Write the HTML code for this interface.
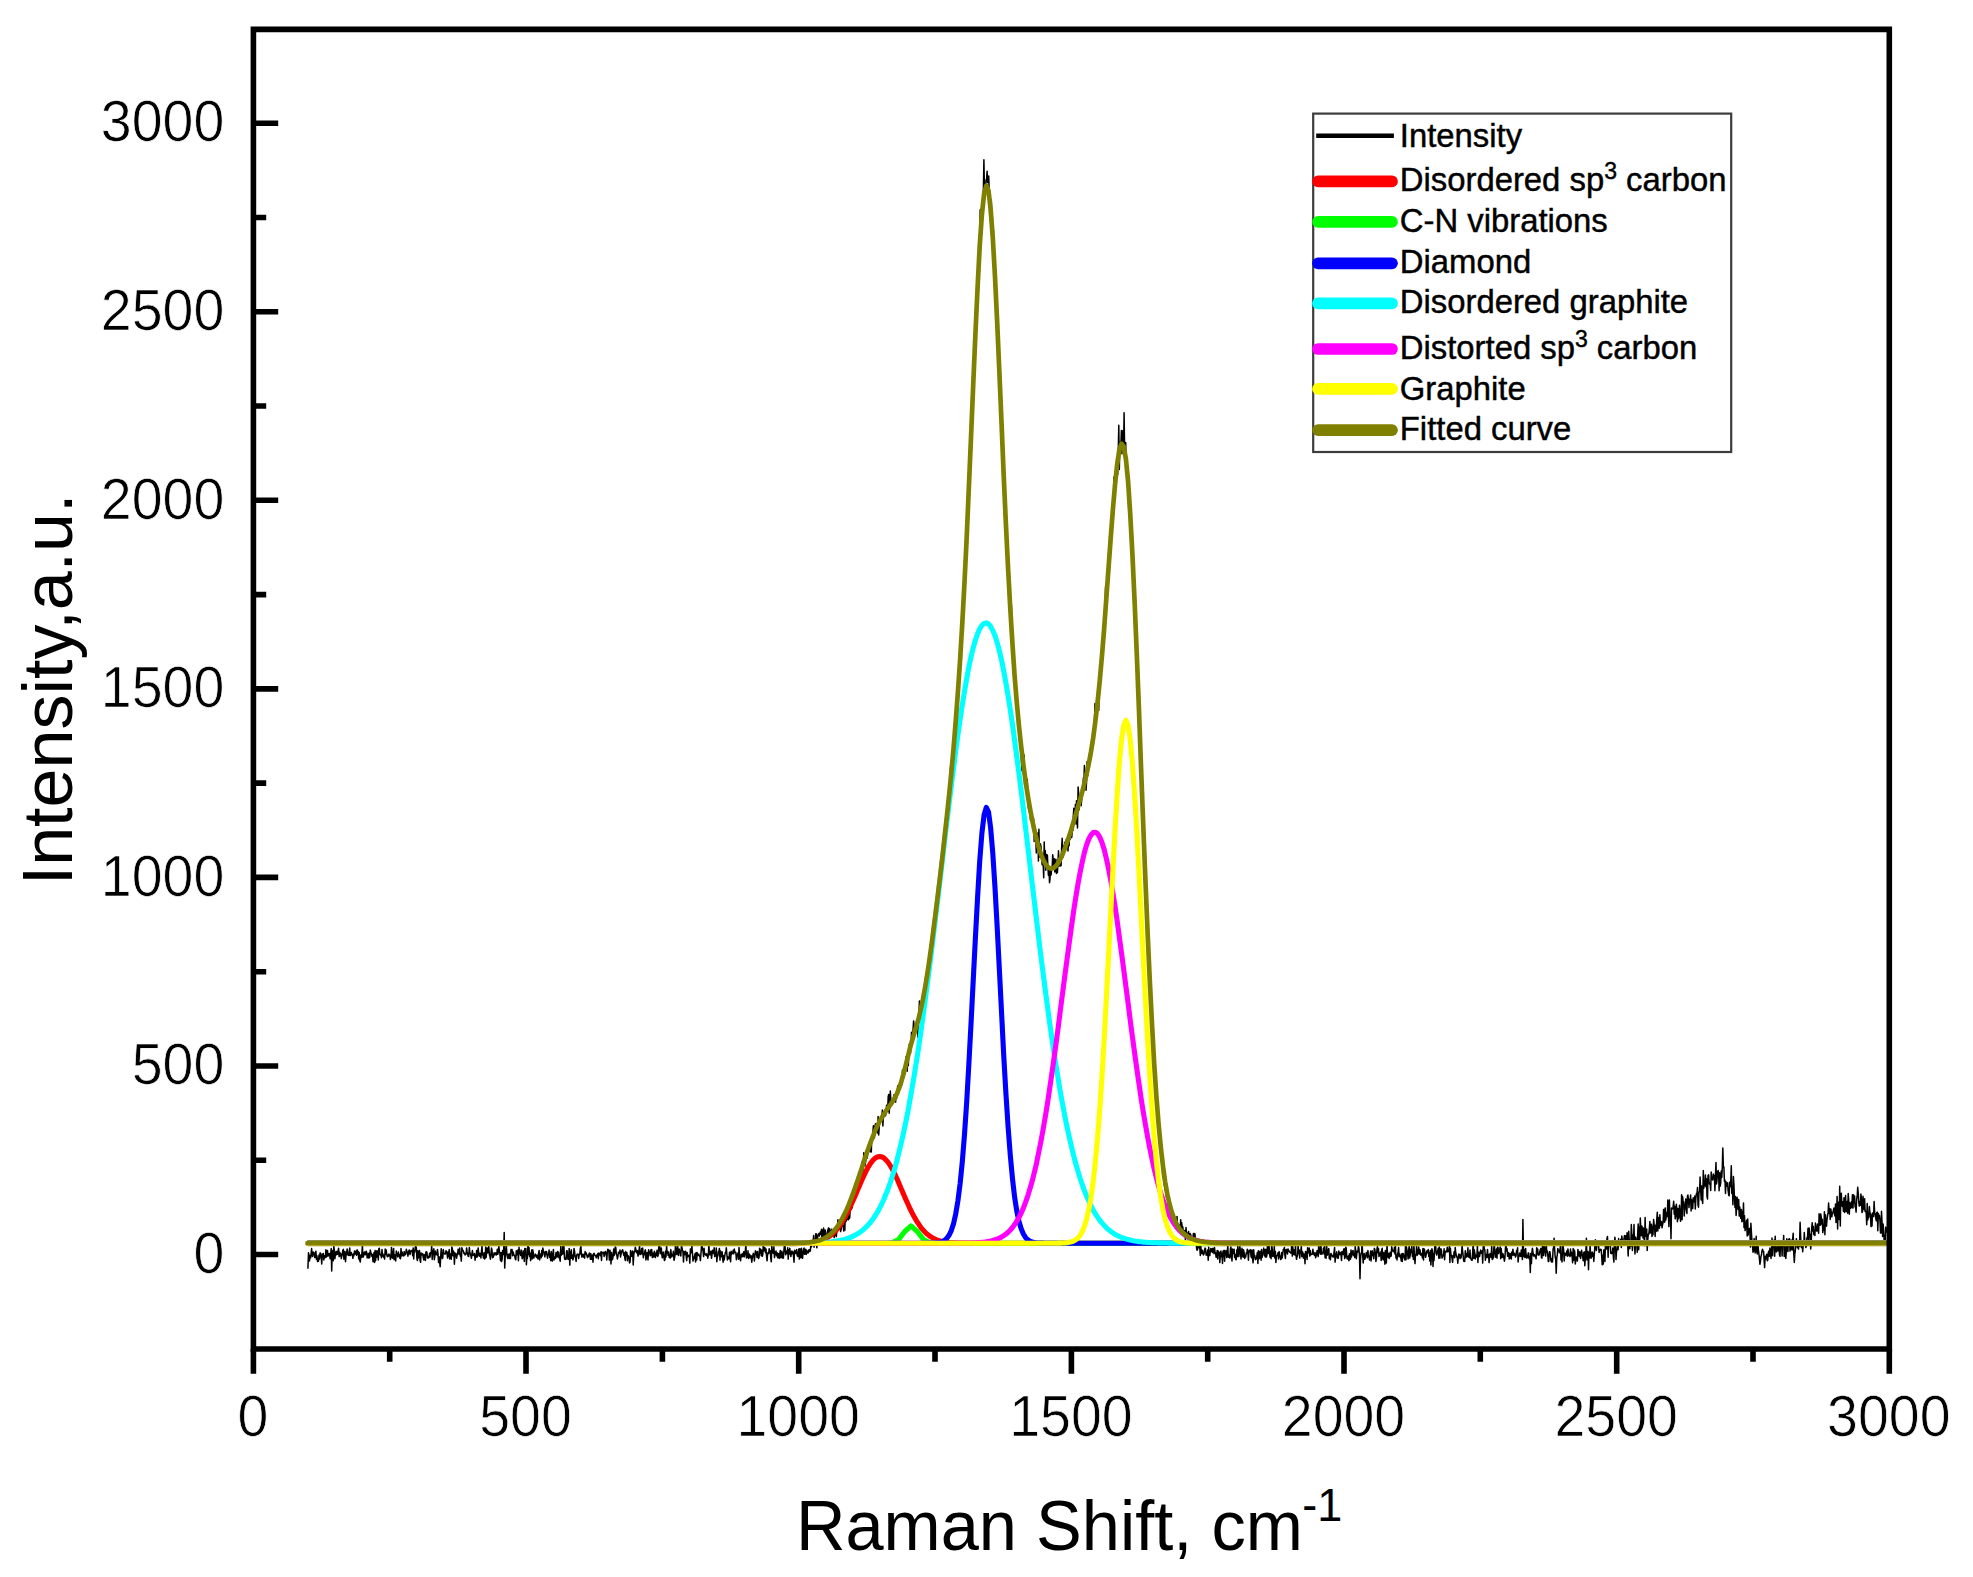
<!DOCTYPE html>
<html lang="en"><head><meta charset="utf-8"><title>Raman spectrum</title>
<style>
html,body{margin:0;padding:0;background:#fff}
body{width:1973px;height:1577px;overflow:hidden}
svg{display:block}
text{font-family:"Liberation Sans",sans-serif;fill:#000}
.tk{font-size:55.5px;stroke:#fff;stroke-width:0.7px}
.lg{font-size:32.85px;stroke:#000;stroke-width:0.45px}
.ax{font-size:68.6px}
.ay{font-size:70px}
.sup{font-size:45px}
</style></head><body>
<svg width="1973" height="1577" viewBox="0 0 1973 1577">
<rect width="1973" height="1577" fill="#fff"/>
<path d="M307.9 1268.8L308.5 1252.8L309.0 1255.0L309.5 1261.0L310.0 1255.7L310.6 1257.9L311.1 1253.7L311.6 1248.6L312.2 1255.9L312.7 1256.4L313.2 1252.0L313.7 1252.5L314.3 1253.5L314.8 1257.6L315.3 1254.1L315.9 1251.2L316.4 1259.3L316.9 1255.7L317.5 1261.5L318.0 1259.0L318.5 1261.2L319.0 1254.9L319.6 1259.0L320.1 1252.9L320.6 1253.3L321.2 1254.7L321.7 1263.9L322.2 1256.1L322.7 1254.1L323.3 1253.5L323.8 1260.0L324.3 1255.8L324.9 1257.8L325.4 1257.1L325.9 1249.7L326.4 1257.1L327.0 1254.1L327.5 1250.4L328.0 1256.2L328.6 1254.4L329.1 1253.5L329.6 1253.7L330.1 1258.8L330.7 1253.6L331.2 1248.6L331.7 1271.1L332.3 1250.5L332.8 1253.5L333.3 1260.7L333.8 1246.0L334.4 1250.9L334.9 1258.7L335.4 1253.6L336.0 1251.7L336.5 1254.7L337.0 1251.2L337.6 1254.2L338.1 1251.3L338.6 1248.2L339.1 1256.6L339.7 1252.3L340.2 1255.8L340.7 1253.4L341.3 1258.6L341.8 1256.2L342.3 1254.7L342.8 1250.4L343.4 1249.4L343.9 1259.2L344.4 1257.1L345.0 1251.4L345.5 1261.8L346.0 1255.8L346.5 1254.3L347.1 1249.0L347.6 1251.2L348.1 1255.2L348.7 1255.4L349.2 1254.9L349.7 1247.9L350.2 1255.6L350.8 1255.1L351.3 1252.5L351.8 1254.4L352.4 1254.7L352.9 1258.3L353.4 1254.0L353.9 1255.7L354.5 1250.9L355.0 1251.3L355.5 1254.0L356.1 1251.3L356.6 1255.3L357.1 1249.8L357.7 1254.0L358.2 1251.6L358.7 1259.0L359.2 1252.6L359.8 1260.6L360.3 1262.0L360.8 1255.1L361.4 1257.5L361.9 1253.3L362.4 1245.0L362.9 1257.2L363.5 1256.4L364.0 1253.1L364.5 1252.0L365.1 1254.6L365.6 1254.7L366.1 1251.2L366.6 1251.9L367.2 1258.0L367.7 1254.2L368.2 1253.8L368.8 1258.1L369.3 1252.9L369.8 1257.3L370.3 1250.1L370.9 1253.2L371.4 1253.6L371.9 1256.3L372.5 1254.4L373.0 1261.8L373.5 1258.4L374.0 1252.5L374.6 1262.4L375.1 1250.6L375.6 1260.8L376.2 1250.9L376.7 1257.3L377.2 1250.8L377.8 1253.4L378.3 1260.0L378.8 1249.0L379.3 1248.2L379.9 1254.2L380.4 1255.0L380.9 1254.6L381.5 1257.8L382.0 1249.6L382.5 1256.1L383.0 1254.1L383.6 1257.1L384.1 1256.4L384.6 1259.0L385.2 1249.0L385.7 1254.5L386.2 1250.1L386.7 1253.9L387.3 1256.7L387.8 1255.2L388.3 1256.2L388.9 1253.9L389.4 1255.4L389.9 1255.1L390.4 1259.4L391.0 1257.1L391.5 1247.4L392.0 1256.6L392.6 1258.1L393.1 1252.6L393.6 1248.4L394.1 1259.7L394.7 1254.8L395.2 1256.4L395.7 1260.9L396.3 1251.0L396.8 1254.0L397.3 1253.7L397.8 1256.9L398.4 1252.1L398.9 1256.1L399.4 1254.5L400.0 1258.3L400.5 1258.7L401.0 1248.6L401.6 1255.9L402.1 1251.9L402.6 1254.1L403.1 1255.7L403.7 1255.9L404.2 1251.4L404.7 1255.1L405.3 1254.5L405.8 1253.8L406.3 1249.3L406.8 1251.2L407.4 1252.4L407.9 1256.2L408.4 1253.5L409.0 1250.2L409.5 1250.1L410.0 1254.5L410.5 1251.8L411.1 1250.8L411.6 1250.6L412.1 1250.3L412.7 1255.7L413.2 1247.9L413.7 1258.9L414.2 1250.5L414.8 1252.0L415.3 1246.9L415.8 1246.5L416.4 1248.1L416.9 1258.5L417.4 1260.6L417.9 1250.7L418.5 1258.0L419.0 1254.0L419.5 1250.6L420.1 1260.4L420.6 1262.3L421.1 1252.9L421.7 1253.8L422.2 1254.9L422.7 1253.8L423.2 1257.3L423.8 1259.9L424.3 1254.6L424.8 1257.8L425.4 1260.4L425.9 1251.9L426.4 1251.8L426.9 1252.3L427.5 1257.9L428.0 1256.5L428.5 1257.9L429.1 1257.4L429.6 1253.2L430.1 1257.0L430.6 1252.5L431.2 1252.6L431.7 1245.9L432.2 1259.4L432.8 1250.4L433.3 1254.3L433.8 1248.7L434.3 1259.7L434.9 1255.8L435.4 1251.0L435.9 1254.3L436.5 1253.6L437.0 1255.1L437.5 1249.4L438.0 1254.0L438.6 1262.6L439.1 1256.7L439.6 1261.7L440.2 1266.8L440.7 1256.0L441.2 1248.7L441.8 1253.7L442.3 1258.6L442.8 1257.7L443.3 1249.5L443.9 1253.3L444.4 1253.7L444.9 1254.1L445.5 1253.8L446.0 1250.7L446.5 1251.7L447.0 1253.1L447.6 1258.1L448.1 1251.9L448.6 1256.6L449.2 1249.6L449.7 1259.0L450.2 1254.5L450.7 1254.0L451.3 1259.2L451.8 1247.1L452.3 1248.2L452.9 1255.8L453.4 1250.9L453.9 1252.4L454.4 1264.3L455.0 1252.9L455.5 1254.2L456.0 1253.6L456.6 1258.2L457.1 1255.0L457.6 1254.6L458.1 1249.2L458.7 1252.6L459.2 1254.0L459.7 1247.9L460.3 1256.1L460.8 1255.5L461.3 1261.1L461.9 1247.7L462.4 1250.1L462.9 1250.3L463.4 1251.3L464.0 1253.5L464.5 1253.1L465.0 1254.9L465.6 1254.7L466.1 1253.7L466.6 1247.9L467.1 1251.7L467.7 1254.2L468.2 1256.2L468.7 1256.4L469.3 1247.6L469.8 1251.9L470.3 1253.7L470.8 1255.3L471.4 1258.3L471.9 1254.2L472.4 1250.5L473.0 1255.5L473.5 1254.8L474.0 1254.8L474.5 1253.5L475.1 1260.2L475.6 1254.9L476.1 1257.3L476.7 1250.4L477.2 1257.0L477.7 1251.6L478.2 1247.9L478.8 1255.2L479.3 1256.3L479.8 1253.2L480.4 1253.9L480.9 1257.9L481.4 1252.1L482.0 1246.0L482.5 1255.0L483.0 1254.7L483.5 1258.1L484.1 1252.7L484.6 1258.9L485.1 1258.3L485.7 1247.1L486.2 1257.5L486.7 1249.7L487.2 1247.9L487.8 1252.9L488.3 1251.7L488.8 1246.2L489.4 1254.7L489.9 1256.3L490.4 1259.2L490.9 1253.8L491.5 1248.1L492.0 1250.1L492.5 1257.7L493.1 1257.3L493.6 1255.9L494.1 1252.8L494.6 1254.7L495.2 1253.1L495.7 1252.8L496.2 1255.1L496.8 1254.1L497.3 1249.2L497.8 1254.3L498.3 1251.9L498.9 1246.5L499.4 1251.6L499.9 1253.7L500.5 1260.6L501.0 1252.4L501.5 1261.6L502.1 1259.5L502.6 1250.6L503.1 1251.1L503.6 1254.5L504.2 1232.6L504.7 1268.1L505.2 1256.6L505.8 1251.4L506.3 1245.0L506.8 1253.1L507.3 1257.0L507.9 1258.6L508.4 1254.2L508.9 1254.6L509.5 1258.5L510.0 1253.5L510.5 1258.5L511.0 1249.5L511.6 1249.7L512.1 1249.6L512.6 1255.8L513.2 1251.9L513.7 1254.5L514.2 1255.5L514.7 1255.3L515.3 1259.1L515.8 1259.7L516.3 1250.8L516.9 1254.7L517.4 1253.1L517.9 1250.0L518.4 1260.8L519.0 1247.2L519.5 1253.2L520.0 1252.4L520.6 1255.4L521.1 1249.9L521.6 1253.1L522.2 1258.7L522.7 1257.6L523.2 1250.7L523.7 1252.1L524.3 1261.5L524.8 1248.6L525.3 1251.6L525.9 1248.6L526.4 1264.8L526.9 1255.1L527.4 1258.4L528.0 1243.9L528.5 1254.6L529.0 1247.6L529.6 1256.5L530.1 1253.3L530.6 1260.6L531.1 1255.5L531.7 1250.0L532.2 1258.9L532.7 1249.7L533.3 1252.6L533.8 1258.1L534.3 1255.9L534.8 1255.8L535.4 1254.1L535.9 1256.1L536.4 1257.2L537.0 1255.1L537.5 1258.0L538.0 1259.0L538.5 1254.1L539.1 1250.4L539.6 1260.0L540.1 1253.9L540.7 1256.5L541.2 1257.8L541.7 1250.6L542.3 1256.0L542.8 1248.0L543.3 1250.4L543.8 1252.4L544.4 1254.8L544.9 1256.9L545.4 1251.6L546.0 1254.5L546.5 1251.5L547.0 1254.1L547.5 1258.2L548.1 1254.3L548.6 1253.7L549.1 1250.1L549.7 1257.5L550.2 1254.1L550.7 1260.8L551.2 1251.4L551.8 1258.2L552.3 1261.1L552.8 1254.2L553.4 1249.6L553.9 1260.0L554.4 1258.2L554.9 1256.9L555.5 1258.4L556.0 1252.4L556.5 1257.1L557.1 1256.8L557.6 1251.6L558.1 1256.9L558.6 1252.2L559.2 1257.8L559.7 1258.7L560.2 1261.2L560.8 1246.1L561.3 1255.2L561.8 1253.0L562.4 1254.1L562.9 1244.6L563.4 1253.7L563.9 1246.4L564.5 1258.0L565.0 1259.5L565.5 1257.9L566.1 1259.2L566.6 1251.0L567.1 1250.7L567.6 1257.7L568.2 1259.4L568.7 1255.3L569.2 1248.4L569.8 1265.1L570.3 1251.8L570.8 1258.2L571.3 1249.8L571.9 1258.2L572.4 1255.1L572.9 1259.9L573.5 1257.8L574.0 1248.4L574.5 1250.7L575.0 1255.5L575.6 1257.4L576.1 1261.4L576.6 1255.5L577.2 1254.1L577.7 1254.3L578.2 1254.3L578.7 1258.4L579.3 1254.2L579.8 1254.1L580.3 1248.8L580.9 1246.5L581.4 1254.5L581.9 1257.0L582.5 1254.2L583.0 1256.3L583.5 1256.9L584.0 1254.2L584.6 1258.1L585.1 1251.5L585.6 1254.3L586.2 1252.9L586.7 1254.7L587.2 1256.8L587.7 1257.7L588.3 1254.9L588.8 1256.1L589.3 1253.0L589.9 1254.0L590.4 1259.3L590.9 1253.7L591.4 1259.3L592.0 1256.4L592.5 1255.1L593.0 1262.2L593.6 1253.6L594.1 1253.3L594.6 1254.6L595.1 1255.6L595.7 1255.4L596.2 1257.8L596.7 1255.0L597.3 1256.1L597.8 1253.6L598.3 1258.7L598.8 1253.0L599.4 1253.4L599.9 1254.5L600.4 1255.7L601.0 1251.7L601.5 1260.5L602.0 1252.1L602.6 1253.0L603.1 1252.8L603.6 1252.4L604.1 1256.5L604.7 1255.0L605.2 1251.4L605.7 1252.2L606.3 1253.1L606.8 1259.9L607.3 1251.8L607.8 1249.3L608.4 1249.9L608.9 1253.0L609.4 1260.1L610.0 1250.2L610.5 1254.5L611.0 1264.0L611.5 1252.4L612.1 1259.8L612.6 1259.1L613.1 1256.4L613.7 1248.9L614.2 1255.4L614.7 1252.9L615.2 1247.0L615.8 1247.6L616.3 1254.3L616.8 1254.9L617.4 1258.9L617.9 1256.7L618.4 1252.3L618.9 1252.4L619.5 1253.5L620.0 1250.0L620.5 1257.0L621.1 1254.2L621.6 1251.0L622.1 1251.6L622.6 1249.7L623.2 1252.4L623.7 1255.2L624.2 1252.5L624.8 1257.9L625.3 1260.4L625.8 1251.6L626.4 1254.2L626.9 1252.7L627.4 1260.7L627.9 1255.4L628.5 1256.3L629.0 1257.4L629.5 1262.9L630.1 1262.0L630.6 1250.4L631.1 1252.4L631.6 1256.3L632.2 1254.0L632.7 1250.9L633.2 1264.9L633.8 1254.4L634.3 1251.8L634.8 1251.2L635.3 1247.2L635.9 1249.4L636.4 1252.7L636.9 1252.7L637.5 1250.8L638.0 1256.1L638.5 1254.1L639.0 1250.3L639.6 1246.2L640.1 1254.6L640.6 1254.1L641.2 1253.1L641.7 1248.6L642.2 1254.1L642.7 1248.1L643.3 1257.8L643.8 1254.7L644.3 1254.7L644.9 1250.8L645.4 1249.8L645.9 1259.9L646.5 1257.6L647.0 1252.6L647.5 1256.5L648.0 1260.0L648.6 1249.8L649.1 1252.0L649.6 1252.0L650.2 1255.8L650.7 1249.9L651.2 1254.9L651.7 1249.6L652.3 1257.5L652.8 1257.3L653.3 1253.1L653.9 1256.7L654.4 1251.3L654.9 1252.9L655.4 1257.6L656.0 1253.6L656.5 1255.3L657.0 1250.3L657.6 1256.4L658.1 1255.7L658.6 1249.1L659.1 1245.1L659.7 1246.0L660.2 1253.7L660.7 1253.1L661.3 1247.9L661.8 1254.4L662.3 1257.8L662.8 1253.5L663.4 1252.1L663.9 1257.2L664.4 1260.5L665.0 1259.6L665.5 1251.3L666.0 1256.9L666.6 1246.0L667.1 1253.1L667.6 1251.5L668.1 1255.3L668.7 1252.0L669.2 1257.5L669.7 1255.4L670.3 1258.0L670.8 1249.5L671.3 1254.0L671.8 1256.9L672.4 1255.3L672.9 1254.8L673.4 1251.2L674.0 1260.3L674.5 1258.0L675.0 1255.4L675.5 1243.9L676.1 1250.2L676.6 1254.4L677.1 1251.1L677.7 1245.8L678.2 1254.9L678.7 1255.4L679.2 1249.1L679.8 1252.0L680.3 1251.3L680.8 1255.9L681.4 1246.3L681.9 1247.2L682.4 1249.9L682.9 1251.2L683.5 1262.0L684.0 1251.4L684.5 1254.7L685.1 1252.2L685.6 1251.2L686.1 1255.3L686.7 1260.6L687.2 1252.5L687.7 1256.9L688.2 1255.2L688.8 1256.3L689.3 1255.3L689.8 1263.1L690.4 1249.1L690.9 1252.9L691.4 1249.5L691.9 1246.1L692.5 1253.8L693.0 1261.1L693.5 1257.5L694.1 1258.7L694.6 1255.9L695.1 1253.6L695.6 1261.9L696.2 1252.6L696.7 1259.9L697.2 1252.8L697.8 1254.4L698.3 1255.2L698.8 1254.2L699.3 1256.1L699.9 1256.4L700.4 1260.6L700.9 1254.1L701.5 1246.6L702.0 1246.1L702.5 1248.7L703.0 1251.1L703.6 1256.6L704.1 1248.2L704.6 1254.2L705.2 1254.2L705.7 1255.1L706.2 1253.6L706.8 1255.7L707.3 1254.3L707.8 1258.2L708.3 1255.4L708.9 1244.9L709.4 1254.2L709.9 1254.9L710.5 1251.8L711.0 1251.1L711.5 1258.3L712.0 1254.8L712.6 1250.3L713.1 1252.9L713.6 1253.5L714.2 1247.8L714.7 1256.6L715.2 1253.6L715.7 1256.0L716.3 1248.0L716.8 1261.7L717.3 1256.6L717.9 1256.0L718.4 1251.3L718.9 1251.5L719.4 1248.4L720.0 1260.2L720.5 1251.0L721.0 1255.1L721.6 1256.6L722.1 1251.8L722.6 1257.6L723.1 1262.2L723.7 1255.4L724.2 1259.9L724.7 1256.5L725.3 1252.5L725.8 1252.7L726.3 1247.7L726.9 1254.7L727.4 1260.0L727.9 1256.9L728.4 1257.6L729.0 1258.8L729.5 1252.2L730.0 1256.5L730.6 1261.8L731.1 1251.2L731.6 1254.4L732.1 1252.5L732.7 1253.5L733.2 1250.2L733.7 1253.8L734.3 1249.0L734.8 1252.3L735.3 1252.4L735.8 1252.3L736.4 1259.7L736.9 1254.6L737.4 1255.0L738.0 1253.1L738.5 1259.3L739.0 1247.5L739.5 1253.5L740.1 1258.7L740.6 1260.7L741.1 1255.0L741.7 1254.3L742.2 1256.8L742.7 1253.6L743.2 1256.5L743.8 1251.7L744.3 1256.8L744.8 1254.1L745.4 1250.1L745.9 1243.8L746.4 1257.9L747.0 1255.8L747.5 1257.3L748.0 1250.8L748.5 1258.5L749.1 1255.9L749.6 1254.1L750.1 1257.8L750.7 1257.7L751.2 1255.8L751.7 1262.3L752.2 1258.7L752.8 1255.6L753.3 1253.3L753.8 1254.7L754.4 1261.0L754.9 1255.8L755.4 1250.8L755.9 1251.7L756.5 1254.2L757.0 1257.4L757.5 1251.4L758.1 1256.2L758.6 1258.6L759.1 1257.1L759.6 1248.2L760.2 1253.1L760.7 1249.3L761.2 1255.8L761.8 1250.2L762.3 1256.3L762.8 1254.6L763.3 1244.1L763.9 1250.9L764.4 1248.0L764.9 1247.7L765.5 1252.6L766.0 1249.1L766.5 1255.9L767.1 1260.8L767.6 1252.9L768.1 1253.9L768.6 1253.5L769.2 1248.7L769.7 1252.7L770.2 1250.7L770.8 1258.3L771.3 1261.8L771.8 1245.6L772.3 1250.9L772.9 1252.9L773.4 1253.3L773.9 1246.8L774.5 1257.6L775.0 1254.4L775.5 1252.1L776.0 1251.0L776.6 1255.7L777.1 1252.7L777.6 1257.7L778.2 1253.4L778.7 1254.4L779.2 1258.4L779.7 1254.0L780.3 1250.4L780.8 1257.7L781.3 1254.9L781.9 1251.3L782.4 1258.1L782.9 1253.2L783.4 1258.1L784.0 1249.4L784.5 1244.7L785.0 1245.9L785.6 1254.8L786.1 1251.0L786.6 1253.4L787.2 1253.5L787.7 1247.8L788.2 1259.1L788.7 1249.7L789.3 1254.1L789.8 1248.3L790.3 1253.1L790.9 1256.5L791.4 1252.7L791.9 1250.9L792.4 1253.7L793.0 1251.9L793.5 1255.9L794.0 1262.3L794.6 1250.2L795.1 1251.0L795.6 1253.2L796.1 1253.5L796.7 1249.6L797.2 1255.5L797.7 1256.5L798.3 1254.4L798.8 1248.9L799.3 1259.1L799.8 1248.8L800.4 1256.0L800.9 1257.8L801.4 1248.3L802.0 1253.6L802.5 1258.3L803.0 1254.4L803.5 1249.2L804.1 1248.0L804.6 1254.3L805.1 1250.8L805.7 1249.3L806.2 1254.5L806.7 1250.2L807.3 1251.5L807.8 1253.1L808.3 1252.6L808.8 1249.9L809.4 1249.6L809.9 1251.5L810.4 1250.4L811.0 1243.7L811.5 1246.7L812.0 1243.3L812.5 1241.3L813.1 1243.1L813.6 1235.5L814.1 1247.3L814.7 1239.8L815.2 1243.6L815.7 1233.9L816.2 1233.7L816.8 1247.8L817.3 1242.9L817.8 1235.4L818.4 1234.1L818.9 1233.5L819.4 1236.1L819.9 1233.3L820.5 1231.8L821.0 1234.3L821.5 1229.2L822.1 1242.4L822.6 1229.9L823.1 1236.6L823.6 1228.0L824.2 1232.8L824.7 1235.4L825.2 1230.1L825.8 1235.5L826.3 1235.5L826.8 1238.4L827.4 1232.1L827.9 1230.0L828.4 1228.1L828.9 1233.1L829.5 1228.4L830.0 1232.9L830.5 1233.6L831.1 1231.0L831.6 1229.2L832.1 1235.1L832.6 1234.8L833.2 1234.6L833.7 1233.6L834.2 1237.6L834.8 1229.5L835.3 1235.3L835.8 1231.5L836.3 1236.6L836.9 1230.2L837.4 1230.8L837.9 1219.8L838.5 1223.0L839.0 1229.3L839.5 1222.8L840.0 1225.5L840.6 1231.6L841.1 1229.6L841.6 1225.3L842.2 1226.0L842.7 1225.1L843.2 1225.5L843.7 1230.9L844.3 1223.1L844.8 1230.5L845.3 1215.0L845.9 1221.8L846.4 1220.5L846.9 1217.1L847.4 1213.7L848.0 1219.7L848.5 1219.7L849.0 1215.4L849.6 1218.2L850.1 1212.1L850.6 1199.4L851.2 1209.6L851.7 1200.5L852.2 1207.9L852.7 1198.9L853.3 1200.1L853.8 1197.3L854.3 1192.9L854.9 1185.9L855.4 1191.2L855.9 1189.9L856.4 1193.2L857.0 1184.4L857.5 1186.4L858.0 1179.8L858.6 1182.0L859.1 1172.1L859.6 1187.5L860.1 1178.3L860.7 1170.7L861.2 1174.7L861.7 1175.0L862.3 1161.4L862.8 1174.3L863.3 1165.5L863.8 1152.7L864.4 1157.1L864.9 1166.1L865.4 1163.2L866.0 1159.3L866.5 1150.8L867.0 1158.3L867.5 1155.6L868.1 1146.3L868.6 1144.7L869.1 1149.1L869.7 1151.1L870.2 1151.7L870.7 1146.0L871.3 1152.0L871.8 1135.8L872.3 1141.1L872.8 1134.1L873.4 1125.8L873.9 1127.8L874.4 1138.0L875.0 1126.5L875.5 1123.7L876.0 1132.1L876.5 1131.9L877.1 1126.5L877.6 1133.0L878.1 1116.4L878.7 1134.9L879.2 1127.3L879.7 1122.0L880.2 1120.8L880.8 1117.9L881.3 1116.4L881.8 1117.9L882.4 1110.1L882.9 1126.0L883.4 1114.2L883.9 1117.0L884.5 1111.9L885.0 1110.6L885.5 1115.7L886.1 1113.5L886.6 1105.3L887.1 1106.9L887.6 1111.5L888.2 1096.6L888.7 1094.5L889.2 1113.3L889.8 1103.4L890.3 1091.0L890.8 1099.4L891.4 1101.6L891.9 1103.1L892.4 1104.0L892.9 1101.5L893.5 1102.4L894.0 1094.7L894.5 1099.8L895.1 1099.1L895.6 1102.1L896.1 1095.0L896.6 1098.4L897.2 1093.4L897.7 1085.7L898.2 1088.0L898.8 1085.9L899.3 1085.3L899.8 1085.4L900.3 1084.8L900.9 1084.1L901.4 1076.7L901.9 1084.8L902.5 1069.9L903.0 1075.0L903.5 1077.3L904.0 1073.9L904.6 1072.9L905.1 1066.2L905.6 1069.0L906.2 1056.5L906.7 1065.1L907.2 1071.2L907.7 1060.5L908.3 1065.6L908.8 1052.5L909.3 1044.2L909.9 1044.5L910.4 1053.7L910.9 1048.5L911.5 1032.2L912.0 1038.6L912.5 1036.9L913.0 1030.7L913.6 1020.9L914.1 1025.8L914.6 1030.7L915.2 1027.7L915.7 1024.4L916.2 1029.8L916.7 1030.6L917.3 1022.3L917.8 1037.1L918.3 1019.2L918.9 1016.3L919.4 1001.0L919.9 1017.7L920.4 1011.1L921.0 1009.1L921.5 1003.1L922.0 997.0L922.6 1003.6L923.1 1002.9L923.6 1005.1L924.1 998.0L924.7 986.2L925.2 978.5L925.7 989.4L926.3 982.3L926.8 976.5L927.3 970.2L927.8 973.5L928.4 967.9L928.9 974.1L929.4 966.3L930.0 945.2L930.5 961.7L931.0 949.8L931.6 942.4L932.1 942.3L932.6 941.1L933.1 934.0L933.7 927.8L934.2 924.2L934.7 931.8L935.3 916.3L935.8 916.8L936.3 910.5L936.8 901.1L937.4 894.1L937.9 888.0L938.4 893.0L939.0 879.0L939.5 881.1L940.0 868.6L940.5 862.4L941.1 868.4L941.6 864.0L942.1 852.6L942.7 863.1L943.2 847.6L943.7 848.1L944.2 842.3L944.8 847.2L945.3 836.4L945.8 825.5L946.4 814.1L946.9 808.5L947.4 811.1L947.9 806.9L948.5 806.4L949.0 792.4L949.5 791.8L950.1 780.3L950.6 766.5L951.1 774.1L951.7 779.4L952.2 769.0L952.7 767.7L953.2 759.9L953.8 735.0L954.3 736.9L954.8 743.9L955.4 720.8L955.9 709.5L956.4 715.1L956.9 710.6L957.5 700.8L958.0 688.5L958.5 678.1L959.1 666.0L959.6 657.7L960.1 649.6L960.6 639.7L961.2 636.5L961.7 645.4L962.2 624.8L962.8 611.6L963.3 605.6L963.8 586.9L964.3 587.3L964.9 581.6L965.4 550.8L965.9 546.4L966.5 539.0L967.0 521.5L967.5 508.6L968.0 503.0L968.6 515.7L969.1 487.8L969.6 473.6L970.2 465.9L970.7 442.8L971.2 421.1L971.8 423.7L972.3 417.1L972.8 375.1L973.3 385.5L973.9 380.3L974.4 354.1L974.9 340.0L975.5 338.7L976.0 312.5L976.5 313.2L977.0 306.1L977.6 284.5L978.1 268.1L978.6 271.7L979.2 252.5L979.7 247.5L980.2 209.8L980.7 236.8L981.3 208.4L981.8 215.8L982.3 210.3L982.9 196.2L983.4 189.6L983.9 159.8L984.4 187.7L985.0 194.5L985.5 191.9L986.0 180.2L986.6 179.1L987.1 171.2L987.6 182.4L988.1 177.8L988.7 175.9L989.2 193.1L989.7 214.1L990.3 215.9L990.8 224.1L991.3 199.9L991.9 231.4L992.4 218.2L992.9 232.8L993.4 230.4L994.0 246.7L994.5 267.3L995.0 278.5L995.6 286.2L996.1 296.3L996.6 303.5L997.1 321.2L997.7 317.4L998.2 360.9L998.7 354.6L999.3 382.3L999.8 380.1L1000.3 386.6L1000.8 407.5L1001.4 412.4L1001.9 446.5L1002.4 434.5L1003.0 462.3L1003.5 463.6L1004.0 479.6L1004.5 516.0L1005.1 511.6L1005.6 514.7L1006.1 514.5L1006.7 536.6L1007.2 547.8L1007.7 572.6L1008.2 558.9L1008.8 566.0L1009.3 590.7L1009.8 602.4L1010.4 623.2L1010.9 611.6L1011.4 605.6L1012.0 630.3L1012.5 634.1L1013.0 647.9L1013.5 667.8L1014.1 656.7L1014.6 684.3L1015.1 683.1L1015.7 686.0L1016.2 687.7L1016.7 697.6L1017.2 703.9L1017.8 718.6L1018.3 728.3L1018.8 723.4L1019.4 734.5L1019.9 744.2L1020.4 748.8L1020.9 747.7L1021.5 762.6L1022.0 770.8L1022.5 769.7L1023.1 760.4L1023.6 762.8L1024.1 755.0L1024.6 784.8L1025.2 782.6L1025.7 774.5L1026.2 786.4L1026.8 790.7L1027.3 779.3L1027.8 797.5L1028.3 806.7L1028.9 811.0L1029.4 802.1L1029.9 805.4L1030.5 820.3L1031.0 820.4L1031.5 812.3L1032.1 814.7L1032.6 826.0L1033.1 819.6L1033.6 818.9L1034.2 841.5L1034.7 833.5L1035.2 830.6L1035.8 839.8L1036.3 852.9L1036.8 842.0L1037.3 836.7L1037.9 832.9L1038.4 861.0L1038.9 829.3L1039.5 857.1L1040.0 844.3L1040.5 843.9L1041.0 847.1L1041.6 854.3L1042.1 864.7L1042.6 853.7L1043.2 864.1L1043.7 877.7L1044.2 841.9L1044.7 857.5L1045.3 850.7L1045.8 870.3L1046.3 854.7L1046.9 854.5L1047.4 855.4L1047.9 866.7L1048.4 875.2L1049.0 868.6L1049.5 882.7L1050.0 879.5L1050.6 867.4L1051.1 874.9L1051.6 869.2L1052.1 868.8L1052.7 854.7L1053.2 858.8L1053.7 867.7L1054.3 858.7L1054.8 871.9L1055.3 868.4L1055.9 859.3L1056.4 873.5L1056.9 866.2L1057.4 872.6L1058.0 862.0L1058.5 850.7L1059.0 866.2L1059.6 858.5L1060.1 865.2L1060.6 865.9L1061.1 865.4L1061.7 845.7L1062.2 838.2L1062.7 849.9L1063.3 857.0L1063.8 845.8L1064.3 851.6L1064.8 842.3L1065.4 844.5L1065.9 843.1L1066.4 839.3L1067.0 846.1L1067.5 843.3L1068.0 850.9L1068.5 840.4L1069.1 845.7L1069.6 835.0L1070.1 839.1L1070.7 830.0L1071.2 837.4L1071.7 837.4L1072.2 831.4L1072.8 830.6L1073.3 816.8L1073.8 808.2L1074.4 812.5L1074.9 819.3L1075.4 804.6L1076.0 824.1L1076.5 800.7L1077.0 814.4L1077.5 827.9L1078.1 787.0L1078.6 792.8L1079.1 809.8L1079.7 799.3L1080.2 800.2L1080.7 796.0L1081.2 805.6L1081.8 797.8L1082.3 787.5L1082.8 787.3L1083.4 778.1L1083.9 784.2L1084.4 765.4L1084.9 785.8L1085.5 776.4L1086.0 790.2L1086.5 783.0L1087.1 761.5L1087.6 775.9L1088.1 762.4L1088.6 764.2L1089.2 768.8L1089.7 760.9L1090.2 759.2L1090.8 756.0L1091.3 743.6L1091.8 741.1L1092.3 747.1L1092.9 746.1L1093.4 733.5L1093.9 732.6L1094.5 720.1L1095.0 703.6L1095.5 713.2L1096.1 715.6L1096.6 712.1L1097.1 712.8L1097.6 708.3L1098.2 704.1L1098.7 710.4L1099.2 689.0L1099.8 674.2L1100.3 677.5L1100.8 670.1L1101.3 672.2L1101.9 643.1L1102.4 645.8L1102.9 628.9L1103.5 630.3L1104.0 617.8L1104.5 625.1L1105.0 610.1L1105.6 586.5L1106.1 611.8L1106.6 584.6L1107.2 572.8L1107.7 576.1L1108.2 565.8L1108.7 554.0L1109.3 563.1L1109.8 546.5L1110.3 550.4L1110.9 541.5L1111.4 533.8L1111.9 522.6L1112.4 513.1L1113.0 503.7L1113.5 514.0L1114.0 477.1L1114.6 478.4L1115.1 476.5L1115.6 480.9L1116.2 473.2L1116.7 462.6L1117.2 459.4L1117.7 474.5L1118.3 448.5L1118.8 425.2L1119.3 469.4L1119.9 442.6L1120.4 441.8L1120.9 444.9L1121.4 430.4L1122.0 453.8L1122.5 441.6L1123.0 430.4L1123.6 447.2L1124.1 412.8L1124.6 448.9L1125.1 457.2L1125.7 442.5L1126.2 469.5L1126.7 458.0L1127.3 483.0L1127.8 471.4L1128.3 485.1L1128.8 514.8L1129.4 499.1L1129.9 516.9L1130.4 520.0L1131.0 511.6L1131.5 544.9L1132.0 554.5L1132.5 543.2L1133.1 565.8L1133.6 564.9L1134.1 587.3L1134.7 609.7L1135.2 615.2L1135.7 617.1L1136.3 632.6L1136.8 653.6L1137.3 666.7L1137.8 681.6L1138.4 699.1L1138.9 693.0L1139.4 723.9L1140.0 745.2L1140.5 754.2L1141.0 759.0L1141.5 773.8L1142.1 793.7L1142.6 811.6L1143.1 820.4L1143.7 846.5L1144.2 857.4L1144.7 855.9L1145.2 878.3L1145.8 885.5L1146.3 892.7L1146.8 909.4L1147.4 926.1L1147.9 924.5L1148.4 946.2L1148.9 964.5L1149.5 969.0L1150.0 982.3L1150.5 1001.0L1151.1 1009.6L1151.6 1017.5L1152.1 1038.2L1152.6 1037.1L1153.2 1047.1L1153.7 1057.0L1154.2 1072.6L1154.8 1073.6L1155.3 1079.9L1155.8 1086.9L1156.4 1101.1L1156.9 1098.8L1157.4 1115.5L1157.9 1116.8L1158.5 1115.2L1159.0 1131.6L1159.5 1136.9L1160.1 1134.9L1160.6 1148.0L1161.1 1153.1L1161.6 1155.8L1162.2 1156.7L1162.7 1177.2L1163.2 1175.0L1163.8 1180.1L1164.3 1184.4L1164.8 1187.1L1165.3 1190.6L1165.9 1188.7L1166.4 1197.4L1166.9 1195.7L1167.5 1197.2L1168.0 1205.0L1168.5 1203.5L1169.0 1199.1L1169.6 1207.1L1170.1 1213.4L1170.6 1212.7L1171.2 1218.2L1171.7 1214.5L1172.2 1213.3L1172.7 1222.1L1173.3 1220.6L1173.8 1215.9L1174.3 1224.0L1174.9 1221.9L1175.4 1228.0L1175.9 1227.8L1176.5 1227.2L1177.0 1216.4L1177.5 1227.8L1178.0 1228.8L1178.6 1229.4L1179.1 1228.1L1179.6 1225.0L1180.2 1227.3L1180.7 1219.7L1181.2 1227.7L1181.7 1222.8L1182.3 1228.0L1182.8 1226.9L1183.3 1235.7L1183.9 1230.5L1184.4 1230.5L1184.9 1231.5L1185.4 1239.9L1186.0 1227.5L1186.5 1233.1L1187.0 1233.7L1187.6 1233.4L1188.1 1233.7L1188.6 1231.5L1189.1 1239.0L1189.7 1238.1L1190.2 1233.6L1190.7 1234.7L1191.3 1237.5L1191.8 1238.9L1192.3 1240.7L1192.8 1238.1L1193.4 1233.6L1193.9 1243.5L1194.4 1233.5L1195.0 1234.1L1195.5 1243.0L1196.0 1238.6L1196.6 1248.5L1197.1 1250.3L1197.6 1249.1L1198.1 1246.1L1198.7 1246.4L1199.2 1247.7L1199.7 1245.8L1200.3 1255.4L1200.8 1245.2L1201.3 1253.5L1201.8 1250.9L1202.4 1250.3L1202.9 1253.8L1203.4 1255.0L1204.0 1253.9L1204.5 1250.2L1205.0 1248.1L1205.5 1248.5L1206.1 1255.1L1206.6 1254.5L1207.1 1255.3L1207.7 1250.0L1208.2 1260.2L1208.7 1247.2L1209.2 1254.3L1209.8 1255.6L1210.3 1251.3L1210.8 1248.6L1211.4 1251.5L1211.9 1248.7L1212.4 1252.5L1212.9 1248.2L1213.5 1249.4L1214.0 1253.7L1214.5 1247.5L1215.1 1252.7L1215.6 1253.1L1216.1 1257.2L1216.7 1254.7L1217.2 1250.4L1217.7 1258.9L1218.2 1251.0L1218.8 1252.2L1219.3 1252.5L1219.8 1262.6L1220.4 1254.1L1220.9 1251.1L1221.4 1256.8L1221.9 1253.4L1222.5 1263.4L1223.0 1251.1L1223.5 1256.5L1224.1 1250.3L1224.6 1261.2L1225.1 1251.0L1225.6 1254.8L1226.2 1250.6L1226.7 1257.6L1227.2 1256.3L1227.8 1244.8L1228.3 1257.2L1228.8 1256.7L1229.3 1255.0L1229.9 1258.0L1230.4 1249.0L1230.9 1246.9L1231.5 1256.7L1232.0 1260.9L1232.5 1249.1L1233.0 1253.5L1233.6 1250.6L1234.1 1249.2L1234.6 1257.4L1235.2 1254.6L1235.7 1259.5L1236.2 1259.7L1236.8 1249.9L1237.3 1256.6L1237.8 1244.6L1238.3 1253.6L1238.9 1256.5L1239.4 1250.7L1239.9 1246.6L1240.5 1251.9L1241.0 1258.9L1241.5 1252.4L1242.0 1248.3L1242.6 1255.9L1243.1 1257.1L1243.6 1249.8L1244.2 1253.4L1244.7 1258.4L1245.2 1255.5L1245.7 1257.0L1246.3 1252.7L1246.8 1253.5L1247.3 1249.2L1247.9 1251.0L1248.4 1260.3L1248.9 1252.3L1249.4 1250.3L1250.0 1252.1L1250.5 1249.7L1251.0 1256.2L1251.6 1257.8L1252.1 1250.1L1252.6 1258.3L1253.1 1262.8L1253.7 1249.7L1254.2 1256.9L1254.7 1255.2L1255.3 1259.7L1255.8 1259.4L1256.3 1258.7L1256.9 1255.4L1257.4 1252.4L1257.9 1263.4L1258.4 1250.8L1259.0 1258.8L1259.5 1258.3L1260.0 1251.2L1260.6 1254.2L1261.1 1260.2L1261.6 1249.4L1262.1 1257.5L1262.7 1252.9L1263.2 1253.1L1263.7 1248.1L1264.3 1255.8L1264.8 1249.8L1265.3 1257.0L1265.8 1249.3L1266.4 1257.1L1266.9 1255.4L1267.4 1246.1L1268.0 1252.6L1268.5 1253.5L1269.0 1244.7L1269.5 1252.4L1270.1 1257.3L1270.6 1250.9L1271.1 1258.8L1271.7 1244.1L1272.2 1249.0L1272.7 1256.3L1273.2 1256.5L1273.8 1253.2L1274.3 1246.2L1274.8 1258.0L1275.4 1251.6L1275.9 1262.4L1276.4 1255.7L1276.9 1255.6L1277.5 1255.1L1278.0 1252.7L1278.5 1259.0L1279.1 1251.5L1279.6 1254.7L1280.1 1256.6L1280.7 1259.6L1281.2 1258.8L1281.7 1252.4L1282.2 1257.9L1282.8 1253.7L1283.3 1249.5L1283.8 1249.7L1284.4 1247.5L1284.9 1255.2L1285.4 1258.4L1285.9 1249.7L1286.5 1252.6L1287.0 1249.3L1287.5 1253.9L1288.1 1249.0L1288.6 1250.4L1289.1 1251.0L1289.6 1251.8L1290.2 1252.3L1290.7 1253.0L1291.2 1253.0L1291.8 1242.6L1292.3 1256.1L1292.8 1246.7L1293.3 1254.4L1293.9 1249.8L1294.4 1254.3L1294.9 1255.0L1295.5 1245.5L1296.0 1255.2L1296.5 1259.3L1297.0 1256.9L1297.6 1255.3L1298.1 1244.9L1298.6 1253.1L1299.2 1250.0L1299.7 1258.1L1300.2 1252.5L1300.8 1251.1L1301.3 1246.4L1301.8 1256.8L1302.3 1251.4L1302.9 1252.7L1303.4 1258.2L1303.9 1254.0L1304.5 1255.0L1305.0 1263.7L1305.5 1251.4L1306.0 1251.7L1306.6 1255.8L1307.1 1259.5L1307.6 1247.7L1308.2 1252.8L1308.7 1249.7L1309.2 1248.0L1309.7 1256.1L1310.3 1250.5L1310.8 1254.9L1311.3 1254.2L1311.9 1254.3L1312.4 1253.9L1312.9 1249.3L1313.4 1253.4L1314.0 1254.6L1314.5 1255.1L1315.0 1252.5L1315.6 1257.7L1316.1 1256.0L1316.6 1254.2L1317.1 1250.6L1317.7 1254.4L1318.2 1256.5L1318.7 1245.5L1319.3 1248.3L1319.8 1252.0L1320.3 1254.2L1320.9 1244.7L1321.4 1252.6L1321.9 1254.3L1322.4 1252.7L1323.0 1252.6L1323.5 1248.0L1324.0 1254.0L1324.6 1245.1L1325.1 1257.7L1325.6 1251.0L1326.1 1258.2L1326.7 1246.3L1327.2 1255.3L1327.7 1254.2L1328.3 1250.0L1328.8 1248.6L1329.3 1258.6L1329.8 1255.4L1330.4 1259.8L1330.9 1253.4L1331.4 1254.4L1332.0 1255.4L1332.5 1256.8L1333.0 1255.6L1333.5 1257.1L1334.1 1251.7L1334.6 1247.5L1335.1 1262.1L1335.7 1254.4L1336.2 1255.7L1336.7 1251.8L1337.2 1258.0L1337.8 1254.6L1338.3 1258.3L1338.8 1251.0L1339.4 1253.5L1339.9 1254.6L1340.4 1252.4L1341.0 1255.0L1341.5 1260.5L1342.0 1251.4L1342.5 1252.7L1343.1 1254.6L1343.6 1249.7L1344.1 1248.7L1344.7 1258.6L1345.2 1257.3L1345.7 1247.3L1346.2 1247.9L1346.8 1257.1L1347.3 1259.0L1347.8 1256.7L1348.4 1256.1L1348.9 1260.7L1349.4 1253.8L1349.9 1259.4L1350.5 1259.1L1351.0 1250.0L1351.5 1256.9L1352.1 1254.2L1352.6 1251.2L1353.1 1250.5L1353.6 1255.4L1354.2 1253.7L1354.7 1257.5L1355.2 1246.5L1355.8 1251.2L1356.3 1258.7L1356.8 1253.9L1357.3 1250.9L1357.9 1251.9L1358.4 1246.1L1358.9 1248.1L1359.5 1256.2L1360.0 1278.8L1360.5 1259.4L1361.1 1252.9L1361.6 1253.3L1362.1 1242.3L1362.6 1253.5L1363.2 1262.9L1363.7 1256.8L1364.2 1253.5L1364.8 1259.3L1365.3 1257.7L1365.8 1255.5L1366.3 1252.5L1366.9 1254.6L1367.4 1257.8L1367.9 1250.5L1368.5 1256.3L1369.0 1256.1L1369.5 1259.9L1370.0 1257.3L1370.6 1251.1L1371.1 1260.9L1371.6 1254.2L1372.2 1250.8L1372.7 1255.6L1373.2 1252.9L1373.7 1258.7L1374.3 1248.3L1374.8 1249.2L1375.3 1252.9L1375.9 1261.5L1376.4 1258.4L1376.9 1249.7L1377.4 1246.5L1378.0 1252.7L1378.5 1248.5L1379.0 1256.6L1379.6 1254.8L1380.1 1253.9L1380.6 1252.1L1381.2 1260.5L1381.7 1249.9L1382.2 1248.2L1382.7 1258.9L1383.3 1259.8L1383.8 1252.4L1384.3 1256.8L1384.9 1264.2L1385.4 1250.4L1385.9 1253.3L1386.4 1263.1L1387.0 1244.8L1387.5 1253.3L1388.0 1257.2L1388.6 1253.5L1389.1 1258.4L1389.6 1257.2L1390.1 1252.3L1390.7 1256.3L1391.2 1255.9L1391.7 1246.7L1392.3 1250.2L1392.8 1250.4L1393.3 1251.6L1393.8 1251.8L1394.4 1247.6L1394.9 1254.0L1395.4 1245.9L1396.0 1258.1L1396.5 1255.0L1397.0 1259.9L1397.5 1255.4L1398.1 1251.7L1398.6 1247.6L1399.1 1256.8L1399.7 1253.9L1400.2 1255.5L1400.7 1257.2L1401.3 1261.1L1401.8 1253.7L1402.3 1261.5L1402.8 1253.5L1403.4 1253.8L1403.9 1256.8L1404.4 1258.3L1405.0 1260.0L1405.5 1245.8L1406.0 1259.8L1406.5 1247.1L1407.1 1251.3L1407.6 1253.5L1408.1 1259.0L1408.7 1249.4L1409.2 1246.4L1409.7 1258.0L1410.2 1255.2L1410.8 1249.3L1411.3 1252.5L1411.8 1245.2L1412.4 1256.4L1412.9 1251.6L1413.4 1259.4L1413.9 1244.7L1414.5 1257.1L1415.0 1263.6L1415.5 1254.5L1416.1 1254.5L1416.6 1245.5L1417.1 1255.4L1417.6 1254.0L1418.2 1251.3L1418.7 1247.0L1419.2 1254.2L1419.8 1249.4L1420.3 1251.7L1420.8 1255.2L1421.4 1253.6L1421.9 1253.8L1422.4 1258.0L1422.9 1248.6L1423.5 1260.0L1424.0 1248.8L1424.5 1249.7L1425.1 1254.3L1425.6 1257.3L1426.1 1254.9L1426.6 1251.9L1427.2 1250.7L1427.7 1252.7L1428.2 1249.6L1428.8 1256.4L1429.3 1252.9L1429.8 1260.9L1430.3 1250.6L1430.9 1265.0L1431.4 1255.8L1431.9 1248.8L1432.5 1250.9L1433.0 1266.4L1433.5 1253.8L1434.0 1260.4L1434.6 1249.2L1435.1 1242.9L1435.6 1245.1L1436.2 1253.6L1436.7 1255.0L1437.2 1252.4L1437.7 1251.1L1438.3 1248.2L1438.8 1258.3L1439.3 1247.0L1439.9 1258.1L1440.4 1252.7L1440.9 1248.8L1441.5 1250.8L1442.0 1258.1L1442.5 1257.0L1443.0 1256.0L1443.6 1254.2L1444.1 1248.8L1444.6 1259.7L1445.2 1251.9L1445.7 1251.2L1446.2 1251.5L1446.7 1251.9L1447.3 1247.2L1447.8 1251.8L1448.3 1250.1L1448.9 1251.4L1449.4 1246.0L1449.9 1262.4L1450.4 1248.2L1451.0 1255.1L1451.5 1255.2L1452.0 1258.3L1452.6 1262.3L1453.1 1255.6L1453.6 1257.0L1454.1 1251.7L1454.7 1257.8L1455.2 1247.6L1455.7 1252.7L1456.3 1255.0L1456.8 1257.1L1457.3 1257.4L1457.8 1263.2L1458.4 1256.4L1458.9 1253.9L1459.4 1254.7L1460.0 1258.6L1460.5 1255.1L1461.0 1257.9L1461.6 1253.2L1462.1 1245.6L1462.6 1251.1L1463.1 1255.3L1463.7 1261.2L1464.2 1260.3L1464.7 1261.5L1465.3 1250.7L1465.8 1257.4L1466.3 1253.7L1466.8 1256.7L1467.4 1253.5L1467.9 1247.7L1468.4 1257.0L1469.0 1255.5L1469.5 1257.6L1470.0 1250.0L1470.5 1258.5L1471.1 1259.0L1471.6 1260.2L1472.1 1260.3L1472.7 1251.8L1473.2 1242.4L1473.7 1258.4L1474.2 1249.7L1474.8 1252.8L1475.3 1258.9L1475.8 1255.2L1476.4 1255.0L1476.9 1257.0L1477.4 1245.2L1477.9 1262.5L1478.5 1252.2L1479.0 1252.4L1479.5 1256.5L1480.1 1253.3L1480.6 1250.0L1481.1 1253.2L1481.7 1252.1L1482.2 1250.8L1482.7 1263.1L1483.2 1247.3L1483.8 1243.7L1484.3 1249.5L1484.8 1249.4L1485.4 1260.3L1485.9 1254.5L1486.4 1257.6L1486.9 1256.6L1487.5 1249.6L1488.0 1257.6L1488.5 1254.5L1489.1 1262.6L1489.6 1254.7L1490.1 1253.5L1490.6 1257.1L1491.2 1257.2L1491.7 1245.4L1492.2 1259.4L1492.8 1258.7L1493.3 1257.6L1493.8 1248.5L1494.3 1244.4L1494.9 1252.4L1495.4 1257.2L1495.9 1255.9L1496.5 1249.1L1497.0 1258.1L1497.5 1247.3L1498.0 1247.5L1498.6 1253.6L1499.1 1251.0L1499.6 1250.5L1500.2 1246.9L1500.7 1258.7L1501.2 1248.6L1501.7 1255.6L1502.3 1257.4L1502.8 1253.5L1503.3 1254.9L1503.9 1258.4L1504.4 1261.2L1504.9 1258.2L1505.5 1247.3L1506.0 1245.0L1506.5 1251.0L1507.0 1248.5L1507.6 1256.3L1508.1 1254.3L1508.6 1252.6L1509.2 1258.9L1509.7 1258.5L1510.2 1253.5L1510.7 1255.4L1511.3 1258.9L1511.8 1252.1L1512.3 1255.2L1512.9 1249.2L1513.4 1254.0L1513.9 1255.3L1514.4 1253.3L1515.0 1254.7L1515.5 1257.1L1516.0 1255.8L1516.6 1250.4L1517.1 1250.9L1517.6 1247.8L1518.1 1262.0L1518.7 1255.8L1519.2 1255.9L1519.7 1253.1L1520.3 1256.1L1520.8 1256.4L1521.3 1250.1L1521.8 1253.1L1522.4 1259.6L1522.9 1219.4L1523.4 1249.1L1524.0 1256.8L1524.5 1249.8L1525.0 1257.6L1525.6 1248.4L1526.1 1255.0L1526.6 1257.9L1527.1 1255.8L1527.7 1257.8L1528.2 1253.0L1528.7 1253.1L1529.3 1259.0L1529.8 1256.7L1530.3 1272.4L1530.8 1253.5L1531.4 1263.6L1531.9 1252.7L1532.4 1248.2L1533.0 1252.5L1533.5 1255.9L1534.0 1254.9L1534.5 1254.6L1535.1 1256.8L1535.6 1256.9L1536.1 1258.7L1536.7 1247.8L1537.2 1254.0L1537.7 1249.0L1538.2 1255.2L1538.8 1253.6L1539.3 1254.8L1539.8 1251.5L1540.4 1249.6L1540.9 1248.4L1541.4 1257.5L1541.9 1258.1L1542.5 1245.1L1543.0 1255.4L1543.5 1255.5L1544.1 1246.1L1544.6 1248.1L1545.1 1251.1L1545.7 1256.1L1546.2 1241.2L1546.7 1251.8L1547.2 1251.0L1547.8 1254.9L1548.3 1261.6L1548.8 1261.2L1549.4 1251.7L1549.9 1251.8L1550.4 1255.3L1550.9 1260.4L1551.5 1261.9L1552.0 1258.7L1552.5 1262.0L1553.1 1249.0L1553.6 1247.5L1554.1 1238.2L1554.6 1249.0L1555.2 1257.2L1555.7 1258.8L1556.2 1273.3L1556.8 1257.3L1557.3 1254.9L1557.8 1248.5L1558.3 1250.5L1558.9 1250.6L1559.4 1252.7L1559.9 1250.2L1560.5 1245.7L1561.0 1260.0L1561.5 1256.6L1562.0 1261.9L1562.6 1244.6L1563.1 1246.5L1563.6 1249.6L1564.2 1260.9L1564.7 1252.9L1565.2 1255.3L1565.8 1253.5L1566.3 1255.0L1566.8 1250.9L1567.3 1256.2L1567.9 1248.9L1568.4 1252.5L1568.9 1255.7L1569.5 1254.6L1570.0 1256.5L1570.5 1249.1L1571.0 1255.5L1571.6 1252.2L1572.1 1256.3L1572.6 1262.8L1573.2 1248.5L1573.7 1260.3L1574.2 1249.9L1574.7 1251.4L1575.3 1263.9L1575.8 1259.6L1576.3 1257.0L1576.9 1258.9L1577.4 1261.1L1577.9 1249.4L1578.4 1255.4L1579.0 1251.6L1579.5 1256.6L1580.0 1252.1L1580.6 1258.5L1581.1 1254.1L1581.6 1250.3L1582.1 1253.7L1582.7 1256.8L1583.2 1260.7L1583.7 1252.9L1584.3 1251.8L1584.8 1265.7L1585.3 1258.7L1585.9 1250.5L1586.4 1238.2L1586.9 1260.0L1587.4 1251.6L1588.0 1251.3L1588.5 1269.8L1589.0 1252.7L1589.6 1257.9L1590.1 1244.6L1590.6 1254.9L1591.1 1258.2L1591.7 1254.5L1592.2 1252.0L1592.7 1256.6L1593.3 1253.2L1593.8 1261.5L1594.3 1254.1L1594.8 1247.5L1595.4 1239.7L1595.9 1247.8L1596.4 1250.5L1597.0 1244.4L1597.5 1245.3L1598.0 1241.4L1598.5 1244.6L1599.1 1252.4L1599.6 1249.8L1600.1 1250.2L1600.7 1249.2L1601.2 1249.8L1601.7 1256.2L1602.2 1264.8L1602.8 1255.2L1603.3 1264.1L1603.8 1249.9L1604.4 1250.2L1604.9 1261.4L1605.4 1245.2L1606.0 1243.9L1606.5 1248.9L1607.0 1238.1L1607.5 1236.5L1608.1 1257.3L1608.6 1241.8L1609.1 1245.7L1609.7 1245.7L1610.2 1241.9L1610.7 1253.2L1611.2 1252.1L1611.8 1253.6L1612.3 1252.9L1612.8 1248.1L1613.4 1257.4L1613.9 1262.1L1614.4 1242.8L1614.9 1237.2L1615.5 1243.8L1616.0 1259.6L1616.5 1251.6L1617.1 1249.8L1617.6 1245.4L1618.1 1249.6L1618.6 1238.6L1619.2 1245.4L1619.7 1244.7L1620.2 1244.5L1620.8 1239.3L1621.3 1247.5L1621.8 1236.0L1622.3 1240.4L1622.9 1242.4L1623.4 1243.0L1623.9 1239.3L1624.5 1235.6L1625.0 1235.8L1625.5 1239.6L1626.1 1235.8L1626.6 1241.0L1627.1 1232.7L1627.6 1241.6L1628.2 1256.0L1628.7 1231.3L1629.2 1239.9L1629.8 1248.8L1630.3 1241.6L1630.8 1246.2L1631.3 1224.5L1631.9 1235.8L1632.4 1250.4L1632.9 1234.9L1633.5 1241.5L1634.0 1224.5L1634.5 1245.7L1635.0 1254.0L1635.6 1237.0L1636.1 1239.8L1636.6 1240.0L1637.2 1252.2L1637.7 1233.3L1638.2 1224.0L1638.7 1249.7L1639.3 1227.1L1639.8 1239.4L1640.3 1218.0L1640.9 1231.6L1641.4 1235.8L1641.9 1226.1L1642.4 1230.1L1643.0 1237.9L1643.5 1228.1L1644.0 1236.7L1644.6 1245.8L1645.1 1217.6L1645.6 1234.7L1646.2 1236.3L1646.7 1229.0L1647.2 1250.4L1647.7 1240.8L1648.3 1234.3L1648.8 1234.1L1649.3 1229.5L1649.9 1221.4L1650.4 1232.9L1650.9 1225.4L1651.4 1224.3L1652.0 1236.4L1652.5 1226.4L1653.0 1234.8L1653.6 1219.6L1654.1 1223.8L1654.6 1226.7L1655.1 1236.4L1655.7 1225.3L1656.2 1231.5L1656.7 1220.3L1657.3 1212.3L1657.8 1230.9L1658.3 1217.6L1658.8 1218.8L1659.4 1228.3L1659.9 1214.8L1660.4 1225.4L1661.0 1225.1L1661.5 1221.5L1662.0 1227.8L1662.5 1225.1L1663.1 1222.6L1663.6 1209.6L1664.1 1209.5L1664.7 1222.3L1665.2 1207.9L1665.7 1220.0L1666.3 1216.5L1666.8 1212.3L1667.3 1216.4L1667.8 1200.0L1668.4 1216.1L1668.9 1226.6L1669.4 1200.1L1670.0 1219.9L1670.5 1218.7L1671.0 1238.8L1671.5 1208.1L1672.1 1209.1L1672.6 1208.9L1673.1 1207.1L1673.7 1201.3L1674.2 1214.2L1674.7 1206.3L1675.2 1218.8L1675.8 1215.4L1676.3 1204.2L1676.8 1208.9L1677.4 1221.8L1677.9 1208.4L1678.4 1218.8L1678.9 1216.7L1679.5 1205.2L1680.0 1212.7L1680.5 1221.3L1681.1 1217.4L1681.6 1194.8L1682.1 1219.8L1682.6 1196.5L1683.2 1202.5L1683.7 1201.9L1684.2 1216.0L1684.8 1208.6L1685.3 1204.6L1685.8 1199.0L1686.4 1209.9L1686.9 1213.5L1687.4 1196.2L1687.9 1195.0L1688.5 1200.3L1689.0 1207.6L1689.5 1199.2L1690.1 1201.1L1690.6 1195.0L1691.1 1210.9L1691.6 1199.8L1692.2 1201.6L1692.7 1208.6L1693.2 1197.8L1693.8 1198.8L1694.3 1201.9L1694.8 1196.0L1695.3 1209.0L1695.9 1197.8L1696.4 1193.5L1696.9 1194.2L1697.5 1187.5L1698.0 1205.1L1698.5 1207.2L1699.0 1192.9L1699.6 1190.7L1700.1 1177.0L1700.6 1188.5L1701.2 1200.0L1701.7 1186.1L1702.2 1198.9L1702.7 1203.5L1703.3 1170.4L1703.8 1188.2L1704.3 1184.6L1704.9 1185.4L1705.4 1174.9L1705.9 1186.7L1706.5 1178.8L1707.0 1196.4L1707.5 1198.9L1708.0 1175.7L1708.6 1174.8L1709.1 1182.1L1709.6 1184.0L1710.2 1184.0L1710.7 1190.5L1711.2 1172.0L1711.7 1178.6L1712.3 1179.4L1712.8 1180.0L1713.3 1174.1L1713.9 1178.0L1714.4 1175.6L1714.9 1190.7L1715.4 1176.5L1716.0 1162.4L1716.5 1184.0L1717.0 1180.3L1717.6 1171.5L1718.1 1170.5L1718.6 1172.7L1719.1 1190.7L1719.7 1172.8L1720.2 1186.2L1720.7 1182.7L1721.3 1170.9L1721.8 1177.4L1722.3 1167.8L1722.8 1148.0L1723.4 1167.1L1723.9 1167.0L1724.4 1181.1L1725.0 1180.2L1725.5 1193.4L1726.0 1181.8L1726.5 1186.2L1727.1 1185.2L1727.6 1182.8L1728.1 1190.4L1728.7 1195.0L1729.2 1195.8L1729.7 1182.3L1730.3 1186.7L1730.8 1180.2L1731.3 1165.8L1731.8 1193.6L1732.4 1186.8L1732.9 1204.8L1733.4 1176.4L1734.0 1186.3L1734.5 1198.7L1735.0 1207.4L1735.5 1196.5L1736.1 1215.4L1736.6 1208.1L1737.1 1197.3L1737.7 1203.8L1738.2 1209.5L1738.7 1199.5L1739.2 1216.1L1739.8 1207.1L1740.3 1214.4L1740.8 1218.3L1741.4 1209.5L1741.9 1221.8L1742.4 1211.8L1742.9 1221.1L1743.5 1202.9L1744.0 1227.4L1744.5 1215.8L1745.1 1230.6L1745.6 1228.2L1746.1 1222.9L1746.6 1220.3L1747.2 1236.0L1747.7 1219.0L1748.2 1234.9L1748.8 1229.2L1749.3 1228.6L1749.8 1228.3L1750.4 1247.0L1750.9 1223.3L1751.4 1232.3L1751.9 1240.6L1752.5 1246.2L1753.0 1252.2L1753.5 1251.0L1754.1 1238.6L1754.6 1246.1L1755.1 1252.9L1755.6 1249.9L1756.2 1236.3L1756.7 1250.9L1757.2 1253.9L1757.8 1241.6L1758.3 1249.0L1758.8 1253.1L1759.3 1257.3L1759.9 1264.3L1760.4 1261.6L1760.9 1256.7L1761.5 1254.8L1762.0 1250.7L1762.5 1249.2L1763.0 1251.4L1763.6 1251.3L1764.1 1259.8L1764.6 1267.6L1765.2 1256.2L1765.7 1259.1L1766.2 1256.9L1766.7 1254.2L1767.3 1260.8L1767.8 1259.8L1768.3 1252.6L1768.9 1251.0L1769.4 1256.3L1769.9 1248.1L1770.5 1253.0L1771.0 1258.5L1771.5 1250.9L1772.0 1238.0L1772.6 1255.7L1773.1 1242.7L1773.6 1241.1L1774.2 1240.1L1774.7 1256.2L1775.2 1236.3L1775.7 1249.4L1776.3 1251.9L1776.8 1251.6L1777.3 1245.6L1777.9 1249.3L1778.4 1250.8L1778.9 1240.4L1779.4 1254.3L1780.0 1256.4L1780.5 1243.7L1781.0 1243.8L1781.6 1240.9L1782.1 1256.0L1782.6 1240.7L1783.1 1244.7L1783.7 1235.5L1784.2 1256.5L1784.7 1246.0L1785.3 1249.3L1785.8 1258.4L1786.3 1252.0L1786.8 1238.8L1787.4 1249.9L1787.9 1251.5L1788.4 1240.0L1789.0 1238.9L1789.5 1238.7L1790.0 1251.1L1790.6 1245.6L1791.1 1240.1L1791.6 1249.5L1792.1 1250.0L1792.7 1238.6L1793.2 1233.2L1793.7 1252.3L1794.3 1262.4L1794.8 1254.1L1795.3 1250.7L1795.8 1244.3L1796.4 1238.7L1796.9 1243.9L1797.4 1247.7L1798.0 1241.3L1798.5 1249.1L1799.0 1242.3L1799.5 1246.3L1800.1 1222.2L1800.6 1235.3L1801.1 1246.8L1801.7 1247.7L1802.2 1243.4L1802.7 1251.8L1803.2 1244.9L1803.8 1244.6L1804.3 1232.6L1804.8 1241.7L1805.4 1244.0L1805.9 1247.6L1806.4 1246.1L1806.9 1237.7L1807.5 1238.4L1808.0 1228.2L1808.5 1240.6L1809.1 1227.9L1809.6 1233.3L1810.1 1234.8L1810.7 1249.0L1811.2 1243.3L1811.7 1228.1L1812.2 1222.8L1812.8 1231.1L1813.3 1226.5L1813.8 1234.6L1814.4 1233.9L1814.9 1235.5L1815.4 1223.0L1815.9 1227.1L1816.5 1230.9L1817.0 1231.0L1817.5 1224.0L1818.1 1225.2L1818.6 1233.2L1819.1 1213.8L1819.6 1224.1L1820.2 1225.3L1820.7 1213.9L1821.2 1216.7L1821.8 1224.4L1822.3 1219.2L1822.8 1232.6L1823.3 1226.9L1823.9 1230.1L1824.4 1211.8L1824.9 1234.7L1825.5 1214.7L1826.0 1225.5L1826.5 1226.1L1827.0 1219.6L1827.6 1215.6L1828.1 1212.4L1828.6 1203.0L1829.2 1213.2L1829.7 1208.7L1830.2 1219.4L1830.8 1208.9L1831.3 1212.6L1831.8 1216.8L1832.3 1213.5L1832.9 1212.7L1833.4 1210.2L1833.9 1208.1L1834.5 1214.6L1835.0 1215.9L1835.5 1204.0L1836.0 1222.4L1836.6 1213.6L1837.1 1196.4L1837.6 1228.9L1838.2 1207.9L1838.7 1201.9L1839.2 1219.6L1839.7 1186.3L1840.3 1226.1L1840.8 1194.6L1841.3 1193.3L1841.9 1205.0L1842.4 1206.5L1842.9 1201.7L1843.4 1211.2L1844.0 1197.7L1844.5 1212.5L1845.0 1205.6L1845.6 1195.5L1846.1 1211.8L1846.6 1205.8L1847.1 1201.5L1847.7 1213.2L1848.2 1193.5L1848.7 1199.8L1849.3 1214.2L1849.8 1202.7L1850.3 1208.4L1850.9 1207.4L1851.4 1201.7L1851.9 1207.8L1852.4 1194.8L1853.0 1207.9L1853.5 1194.8L1854.0 1202.9L1854.6 1196.0L1855.1 1207.0L1855.6 1206.9L1856.1 1212.1L1856.7 1198.8L1857.2 1196.2L1857.7 1187.2L1858.3 1193.9L1858.8 1202.3L1859.3 1206.1L1859.8 1201.7L1860.4 1205.3L1860.9 1194.0L1861.4 1198.4L1862.0 1212.5L1862.5 1211.7L1863.0 1196.2L1863.5 1204.8L1864.1 1209.4L1864.6 1198.8L1865.1 1211.4L1865.7 1211.0L1866.2 1212.8L1866.7 1224.8L1867.2 1203.6L1867.8 1220.0L1868.3 1215.5L1868.8 1217.4L1869.4 1206.6L1869.9 1213.2L1870.4 1213.1L1871.0 1226.6L1871.5 1214.9L1872.0 1226.0L1872.5 1213.0L1873.1 1213.1L1873.6 1216.6L1874.1 1201.5L1874.7 1213.6L1875.2 1213.6L1875.7 1217.6L1876.2 1220.7L1876.8 1212.5L1877.3 1212.1L1877.8 1230.7L1878.4 1213.6L1878.9 1218.2L1879.4 1215.4L1879.9 1219.7L1880.5 1233.0L1881.0 1233.0L1881.5 1211.3L1882.1 1223.5L1882.6 1236.5L1883.1 1223.9L1883.6 1229.7L1884.2 1241.2L1884.7 1245.0L1885.2 1240.4L1885.8 1227.1L1886.3 1230.0L1886.8 1232.0L1887.3 1228.5L1887.9 1226.7L1888.4 1247.0L1888.9 1265.8" fill="none" stroke="#000" stroke-width="1.5" stroke-linejoin="round"/>
<path d="M307.9 1243.1H798.7M1196.8 1243.1H1889.3" fill="none" stroke="#8c8c14" stroke-width="6.1"/>
<path d="M307.9 1243.2L790.0 1243.2L794.3 1243.1L796.5 1243.1L798.7 1243.1L800.9 1243.0L803.1 1242.9L805.2 1242.8L807.4 1242.7L809.6 1242.5L811.8 1242.3L814.0 1242.0L816.1 1241.7L818.3 1241.2L820.5 1240.6L822.7 1239.8L824.9 1238.9L827.1 1237.8L829.2 1236.4L831.4 1234.7L833.6 1232.8L835.8 1230.6L838.0 1228.0L840.1 1225.0L842.3 1221.7L844.5 1218.0L846.7 1214.0L848.9 1209.6L851.0 1205.0L853.2 1200.1L855.4 1195.1L857.6 1189.9L859.8 1184.8L862.0 1179.8L864.1 1175.1L866.3 1170.6L868.5 1166.6L870.7 1163.2L872.9 1160.4L875.0 1158.3L877.2 1157.0L879.4 1156.5L881.6 1156.8L883.8 1157.9L885.9 1159.8L888.1 1162.4L890.3 1165.7L892.5 1169.6L894.7 1173.9L896.9 1178.6L899.0 1183.6L901.2 1188.7L903.4 1193.8L905.6 1198.9L907.8 1203.8L909.9 1208.5L912.1 1212.9L914.3 1217.0L916.5 1220.8L918.7 1224.2L920.8 1227.3L923.0 1230.0L925.2 1232.3L927.4 1234.3L929.6 1236.0L931.8 1237.4L933.9 1238.6L936.1 1239.6L938.3 1240.4L940.5 1241.0L942.7 1241.5L944.8 1241.9L947.0 1242.3L949.2 1242.5L951.4 1242.7L953.6 1242.8L955.7 1242.9L957.9 1243.0L960.1 1243.1L962.3 1243.1L964.5 1243.1L966.7 1243.1L971.0 1243.2L984.1 1243.2L1889.3 1243.2" fill="none" stroke="#ff0000" stroke-width="5.1" stroke-linejoin="round" stroke-linecap="round"/>
<path d="M307.9 1243.2L875.0 1243.2L885.9 1243.2L892.2 1242.7L898.5 1239.6L904.8 1231.5L911.0 1225.8L917.3 1231.5L923.6 1239.6L929.8 1242.7L936.1 1243.2L940.5 1243.2L1889.3 1243.2" fill="none" stroke="#00ff00" stroke-width="5.1" stroke-linejoin="round" stroke-linecap="round"/>
<path d="M307.9 1243.2L927.4 1243.2L929.6 1243.1L931.8 1243.1L933.9 1243.0L936.1 1242.9L938.3 1242.6L940.5 1242.2L942.7 1241.4L944.8 1240.1L947.0 1238.1L949.2 1235.0L951.4 1230.3L953.6 1223.5L955.7 1214.0L957.9 1200.9L960.1 1183.7L962.3 1161.7L964.5 1134.5L966.7 1102.1L968.8 1065.0L971.0 1024.0L973.2 981.0L975.4 937.8L977.6 897.0L979.7 861.3L981.9 833.1L984.1 814.7L986.3 807.4L988.5 811.8L990.6 827.5L992.8 853.4L995.0 887.5L997.2 927.3L999.4 970.1L1001.6 1013.4L1003.7 1055.0L1005.9 1093.2L1008.1 1126.9L1010.3 1155.4L1012.5 1178.7L1014.6 1197.0L1016.8 1211.1L1019.0 1221.4L1021.2 1228.8L1023.4 1234.0L1025.5 1237.4L1027.7 1239.7L1029.9 1241.1L1032.1 1242.0L1034.3 1242.5L1036.5 1242.8L1038.6 1243.0L1040.8 1243.1L1043.0 1243.1L1045.2 1243.2L1049.5 1243.2L1889.3 1243.2" fill="none" stroke="#0000ff" stroke-width="5.1" stroke-linejoin="round" stroke-linecap="round"/>
<path d="M307.9 1243.2L785.6 1243.2L792.2 1243.1L796.5 1243.1L798.7 1243.1L800.9 1243.1L803.1 1243.1L805.2 1243.0L807.4 1243.0L809.6 1243.0L811.8 1242.9L814.0 1242.9L816.1 1242.8L818.3 1242.7L820.5 1242.6L822.7 1242.5L824.9 1242.3L827.1 1242.2L829.2 1242.0L831.4 1241.8L833.6 1241.5L835.8 1241.2L838.0 1240.8L840.1 1240.4L842.3 1239.9L844.5 1239.4L846.7 1238.7L848.9 1238.0L851.0 1237.1L853.2 1236.1L855.4 1235.0L857.6 1233.8L859.8 1232.3L862.0 1230.7L864.1 1228.9L866.3 1226.9L868.5 1224.6L870.7 1222.0L872.9 1219.2L875.0 1216.0L877.2 1212.4L879.4 1208.5L881.6 1204.3L883.8 1199.5L885.9 1194.3L888.1 1188.7L890.3 1182.5L892.5 1175.8L894.7 1168.5L896.9 1160.7L899.0 1152.2L901.2 1143.1L903.4 1133.4L905.6 1123.0L907.8 1112.0L909.9 1100.3L912.1 1087.9L914.3 1074.8L916.5 1061.1L918.7 1046.8L920.8 1031.8L923.0 1016.3L925.2 1000.2L927.4 983.5L929.6 966.5L931.8 949.0L933.9 931.1L936.1 913.0L938.3 894.7L940.5 876.2L942.7 857.7L944.8 839.2L947.0 820.9L949.2 802.8L951.4 785.1L953.6 767.7L955.7 751.0L957.9 734.8L960.1 719.4L962.3 704.9L964.5 691.3L966.7 678.7L968.8 667.2L971.0 656.9L973.2 647.8L975.4 640.1L977.6 633.7L979.7 628.8L981.9 625.4L984.1 623.4L986.3 622.9L988.5 623.9L990.6 626.4L992.8 630.4L995.0 635.8L997.2 642.6L999.4 650.8L1001.6 660.3L1003.7 671.1L1005.9 682.9L1008.1 695.9L1010.3 709.9L1012.5 724.7L1014.6 740.4L1016.8 756.8L1019.0 773.8L1021.2 791.2L1023.4 809.1L1025.5 827.3L1027.7 845.7L1029.9 864.2L1032.1 882.7L1034.3 901.1L1036.5 919.4L1038.6 937.4L1040.8 955.1L1043.0 972.5L1045.2 989.4L1047.4 1005.9L1049.5 1021.8L1051.7 1037.1L1053.9 1051.9L1056.1 1066.0L1058.3 1079.5L1060.4 1092.3L1062.6 1104.4L1064.8 1115.9L1067.0 1126.7L1069.2 1136.9L1071.4 1146.4L1073.5 1155.2L1075.7 1163.5L1077.9 1171.1L1080.1 1178.2L1082.3 1184.7L1084.4 1190.7L1086.6 1196.2L1088.8 1201.2L1091.0 1205.8L1093.2 1210.0L1095.3 1213.7L1097.5 1217.1L1099.7 1220.2L1101.9 1222.9L1104.1 1225.4L1106.2 1227.6L1108.4 1229.6L1110.6 1231.3L1112.8 1232.9L1115.0 1234.2L1117.2 1235.4L1119.3 1236.5L1121.5 1237.4L1123.7 1238.2L1125.9 1238.9L1128.1 1239.6L1130.2 1240.1L1132.4 1240.6L1134.6 1241.0L1136.8 1241.3L1139.0 1241.6L1141.1 1241.8L1143.3 1242.1L1145.5 1242.2L1147.7 1242.4L1149.9 1242.5L1152.1 1242.6L1154.2 1242.7L1156.4 1242.8L1158.6 1242.9L1160.8 1242.9L1163.0 1243.0L1165.1 1243.0L1167.3 1243.0L1169.5 1243.1L1171.7 1243.1L1176.0 1243.1L1180.4 1243.1L1187.0 1243.2L1208.8 1243.2L1889.3 1243.2" fill="none" stroke="#00ffff" stroke-width="5.1" stroke-linejoin="round" stroke-linecap="round"/>
<path d="M307.9 1243.2L951.4 1243.2L957.9 1243.1L960.1 1243.1L962.3 1243.1L964.5 1243.1L966.7 1243.0L968.8 1243.0L971.0 1242.9L973.2 1242.9L975.4 1242.8L977.6 1242.6L979.7 1242.5L981.9 1242.3L984.1 1242.1L986.3 1241.8L988.5 1241.4L990.6 1241.0L992.8 1240.5L995.0 1239.8L997.2 1239.0L999.4 1238.1L1001.6 1237.0L1003.7 1235.6L1005.9 1234.1L1008.1 1232.2L1010.3 1230.0L1012.5 1227.5L1014.6 1224.6L1016.8 1221.2L1019.0 1217.4L1021.2 1213.0L1023.4 1208.0L1025.5 1202.4L1027.7 1196.1L1029.9 1189.1L1032.1 1181.3L1034.3 1172.7L1036.5 1163.3L1038.6 1153.1L1040.8 1142.0L1043.0 1130.1L1045.2 1117.4L1047.4 1103.9L1049.5 1089.7L1051.7 1074.7L1053.9 1059.2L1056.1 1043.1L1058.3 1026.7L1060.4 1009.9L1062.6 993.0L1064.8 976.2L1067.0 959.5L1069.2 943.1L1071.4 927.2L1073.5 912.1L1075.7 897.8L1077.9 884.5L1080.1 872.4L1082.3 861.7L1084.4 852.5L1086.6 844.9L1088.8 839.0L1091.0 834.9L1093.2 832.6L1095.3 832.2L1097.5 833.7L1099.7 837.1L1101.9 842.3L1104.1 849.2L1106.2 857.8L1108.4 868.0L1110.6 879.5L1112.8 892.3L1115.0 906.2L1117.2 921.1L1119.3 936.7L1121.5 952.9L1123.7 969.5L1125.9 986.3L1128.1 1003.2L1130.2 1020.0L1132.4 1036.6L1134.6 1052.8L1136.8 1068.6L1139.0 1083.8L1141.1 1098.3L1143.3 1112.1L1145.5 1125.1L1147.7 1137.4L1149.9 1148.8L1152.1 1159.3L1154.2 1169.1L1156.4 1177.9L1158.6 1186.0L1160.8 1193.4L1163.0 1199.9L1165.1 1205.8L1167.3 1211.0L1169.5 1215.7L1171.7 1219.7L1173.9 1223.3L1176.0 1226.4L1178.2 1229.1L1180.4 1231.4L1182.6 1233.3L1184.8 1235.0L1187.0 1236.5L1189.1 1237.7L1191.3 1238.7L1193.5 1239.5L1195.7 1240.2L1197.9 1240.8L1200.0 1241.3L1202.2 1241.6L1204.4 1242.0L1206.6 1242.2L1208.8 1242.4L1210.9 1242.6L1213.1 1242.7L1215.3 1242.8L1217.5 1242.9L1219.7 1243.0L1221.9 1243.0L1224.0 1243.1L1226.2 1243.1L1228.4 1243.1L1232.8 1243.1L1239.3 1243.2L1889.3 1243.2" fill="none" stroke="#ff00ff" stroke-width="5.1" stroke-linejoin="round" stroke-linecap="round"/>
<path d="M307.9 1243.2L1056.1 1243.2L1058.3 1243.1L1060.4 1243.1L1062.6 1243.0L1064.8 1242.9L1067.0 1242.7L1069.2 1242.3L1071.4 1241.8L1073.5 1241.0L1075.7 1239.8L1077.9 1238.0L1080.1 1235.3L1082.3 1231.5L1084.4 1226.3L1086.6 1219.2L1088.8 1209.7L1091.0 1197.4L1093.2 1181.7L1095.3 1162.1L1097.5 1138.4L1099.7 1110.3L1101.9 1077.7L1104.1 1041.2L1106.2 1001.1L1108.4 958.7L1110.6 915.0L1112.8 871.8L1115.0 830.8L1117.2 794.0L1119.3 763.1L1121.5 739.7L1123.7 725.1L1125.9 720.1L1128.1 725.1L1130.2 739.7L1132.4 763.1L1134.6 794.0L1136.8 830.8L1139.0 871.8L1141.1 915.0L1143.3 958.7L1145.5 1001.1L1147.7 1041.2L1149.9 1077.7L1152.1 1110.3L1154.2 1138.4L1156.4 1162.1L1158.6 1181.7L1160.8 1197.4L1163.0 1209.7L1165.1 1219.2L1167.3 1226.3L1169.5 1231.5L1171.7 1235.3L1173.9 1238.0L1176.0 1239.8L1178.2 1241.0L1180.4 1241.8L1182.6 1242.3L1184.8 1242.7L1187.0 1242.9L1189.1 1243.0L1191.3 1243.1L1193.5 1243.1L1195.7 1243.2L1200.0 1243.2L1889.3 1243.2" fill="none" stroke="#ffff00" stroke-width="5.1" stroke-linejoin="round" stroke-linecap="round"/>
<path d="M307.9 1243.2L781.3 1243.2L787.8 1243.1L790.0 1243.1L792.2 1243.1L794.3 1243.1L796.5 1243.0L798.7 1243.0L800.9 1242.9L803.1 1242.8L805.2 1242.7L807.4 1242.5L809.6 1242.3L811.8 1242.0L814.0 1241.7L816.1 1241.2L818.3 1240.7L820.5 1240.0L822.7 1239.1L824.9 1238.0L827.1 1236.7L829.2 1235.2L831.4 1233.3L833.6 1231.1L835.8 1228.6L838.0 1225.6L840.1 1222.2L842.3 1218.4L844.5 1214.2L846.7 1209.5L848.9 1204.4L851.0 1198.9L853.2 1193.1L855.4 1186.9L857.6 1180.5L859.8 1174.0L862.0 1167.4L864.1 1160.8L866.3 1154.3L868.5 1148.0L870.7 1142.0L872.9 1136.4L875.0 1131.1L877.2 1126.2L879.4 1121.8L881.6 1117.8L883.8 1114.2L885.9 1110.9L888.1 1107.8L890.3 1104.8L892.5 1101.6L894.7 1098.1L896.9 1093.8L899.0 1088.4L901.2 1081.9L903.4 1074.3L905.6 1065.8L907.8 1057.0L909.9 1048.4L912.1 1040.5L914.3 1033.1L916.5 1025.8L918.7 1018.1L920.8 1009.2L923.0 998.9L925.2 986.9L927.4 973.4L929.6 958.7L931.8 942.9L933.9 926.3L936.1 909.1L938.3 891.3L940.5 873.0L942.7 854.2L944.8 834.9L947.0 814.9L949.2 793.9L951.4 771.7L953.6 747.7L955.7 721.5L957.9 692.3L960.1 659.8L962.3 623.2L964.5 582.4L966.7 537.4L968.8 488.7L971.0 437.5L973.2 385.2L975.4 334.3L977.6 287.0L979.7 246.2L981.9 214.4L984.1 193.7L986.3 185.6L988.5 190.7L990.6 208.5L992.8 237.9L995.0 276.7L997.2 322.6L999.4 372.6L1001.6 424.3L1003.7 475.3L1005.9 523.9L1008.1 568.6L1010.3 608.9L1012.5 644.5L1014.6 675.7L1016.8 702.7L1019.0 726.2L1021.2 746.7L1023.4 764.7L1025.5 780.7L1027.7 795.1L1029.9 808.0L1032.1 819.6L1034.3 829.9L1036.5 839.1L1038.6 847.1L1040.8 853.9L1043.0 859.4L1045.2 863.6L1047.4 866.6L1049.5 868.2L1051.7 868.6L1053.9 867.8L1056.1 865.9L1058.3 862.9L1060.4 858.9L1062.6 854.1L1064.8 848.6L1067.0 842.5L1069.2 835.9L1071.4 829.1L1073.5 821.9L1075.7 814.7L1077.9 807.2L1080.1 799.6L1082.3 791.6L1084.4 783.2L1086.6 773.9L1088.8 763.6L1091.0 751.7L1093.2 737.9L1095.3 721.7L1097.5 702.9L1099.7 681.2L1101.9 656.6L1104.1 629.4L1106.2 600.2L1108.4 569.8L1110.6 539.5L1112.8 510.6L1115.0 485.0L1117.2 464.1L1119.3 449.9L1121.5 443.6L1123.7 446.4L1125.9 459.0L1128.1 481.5L1130.2 513.4L1132.4 553.8L1134.6 601.4L1136.8 654.3L1139.0 710.8L1141.1 768.8L1143.3 826.4L1145.5 882.1L1147.7 934.6L1149.9 982.7L1152.1 1025.8L1154.2 1063.8L1156.4 1096.5L1158.6 1124.2L1160.8 1147.3L1163.0 1166.2L1165.1 1181.6L1167.3 1194.0L1169.5 1203.9L1171.7 1211.8L1173.9 1218.0L1176.0 1222.9L1178.2 1226.8L1180.4 1230.0L1182.6 1232.5L1184.8 1234.5L1187.0 1236.1L1189.1 1237.5L1191.3 1238.6L1193.5 1239.4L1195.7 1240.2L1197.9 1240.8L1200.0 1241.2L1202.2 1241.6L1204.4 1242.0L1206.6 1242.2L1208.8 1242.4L1210.9 1242.6L1213.1 1242.7L1215.3 1242.8L1217.5 1242.9L1219.7 1243.0L1221.9 1243.0L1224.0 1243.1L1226.2 1243.1L1228.4 1243.1L1232.8 1243.1L1239.3 1243.2L1889.3 1243.2" fill="none" stroke="#808000" stroke-width="4.7" stroke-linejoin="round" stroke-linecap="round"/>
<g stroke="#000" stroke-width="5.6" fill="none" stroke-linecap="butt">
<path d="M253.4 1351.8V29.4H1889.3V1351.8M250.6 1349.0H1892.1"/>
<path d="M253.4 1349.0v24.8M389.7 1349.0v12.8M526.0 1349.0v24.8M662.4 1349.0v12.8M798.7 1349.0v24.8M935.0 1349.0v12.8M1071.4 1349.0v24.8M1207.7 1349.0v12.8M1344.0 1349.0v24.8M1480.3 1349.0v12.8M1616.7 1349.0v24.8M1753.0 1349.0v12.8M1889.3 1349.0v24.8M253.4 1254.5h24.8M253.4 1160.2h12.8M253.4 1066.0h24.8M253.4 971.7h12.8M253.4 877.4h24.8M253.4 783.1h12.8M253.4 688.9h24.8M253.4 594.6h12.8M253.4 500.3h24.8M253.4 406.0h12.8M253.4 311.8h24.8M253.4 217.5h12.8M253.4 123.2h24.8"/>
</g>
<text class="tk" transform="translate(252.9 1435.7) scale(1 1.045)" text-anchor="middle">0</text><text class="tk" transform="translate(525.5 1435.7) scale(1 1.045)" text-anchor="middle">500</text><text class="tk" transform="translate(798.2 1435.7) scale(1 1.045)" text-anchor="middle">1000</text><text class="tk" transform="translate(1070.9 1435.7) scale(1 1.045)" text-anchor="middle">1500</text><text class="tk" transform="translate(1343.5 1435.7) scale(1 1.045)" text-anchor="middle">2000</text><text class="tk" transform="translate(1616.2 1435.7) scale(1 1.045)" text-anchor="middle">2500</text><text class="tk" transform="translate(1888.8 1435.7) scale(1 1.045)" text-anchor="middle">3000</text>
<text class="tk" transform="translate(224.3 1272.7) scale(1 1.045)" text-anchor="end">0</text><text class="tk" transform="translate(224.3 1084.2) scale(1 1.045)" text-anchor="end">500</text><text class="tk" transform="translate(224.3 895.6) scale(1 1.045)" text-anchor="end">1000</text><text class="tk" transform="translate(224.3 707.1) scale(1 1.045)" text-anchor="end">1500</text><text class="tk" transform="translate(224.3 518.5) scale(1 1.045)" text-anchor="end">2000</text><text class="tk" transform="translate(224.3 329.9) scale(1 1.045)" text-anchor="end">2500</text><text class="tk" transform="translate(224.3 141.4) scale(1 1.045)" text-anchor="end">3000</text>
<text class="ax" transform="translate(795.9 1549.8) scale(1 1.015)">Raman Shift, cm</text>
<text class="sup" transform="translate(1302.2 1521.4) scale(1 1.045)">-1</text>
<text class="ay" transform="translate(71.6 885.3) rotate(-90)">Intensity,a.u.</text>
<rect x="1313.2" y="113.6" width="418" height="338.4" fill="#fff" stroke="#3c3c3c" stroke-width="2.2"/>
<path d="M1316.2 135.8H1393.9" stroke="#000" stroke-width="4.5" fill="none"/><text class="lg" x="1399.8" y="147.2">Intensity</text>
<path d="M1318 181.4H1392" stroke="#ff0000" stroke-width="11.7" stroke-linecap="round" fill="none"/><text class="lg" x="1399.8" y="191.4">Disordered sp<tspan font-size="23" dy="-12.5">3</tspan><tspan dy="12.5"> carbon</tspan></text>
<path d="M1318 221.9H1392" stroke="#00ff00" stroke-width="11.7" stroke-linecap="round" fill="none"/><text class="lg" x="1399.8" y="231.7">C-N vibrations</text>
<path d="M1318 263.3H1392" stroke="#0000ff" stroke-width="11.7" stroke-linecap="round" fill="none"/><text class="lg" x="1399.8" y="273.1">Diamond</text>
<path d="M1318 303.4H1392" stroke="#00ffff" stroke-width="11.7" stroke-linecap="round" fill="none"/><text class="lg" x="1399.8" y="313.3">Disordered graphite</text>
<path d="M1318 349.0H1392" stroke="#ff00ff" stroke-width="11.7" stroke-linecap="round" fill="none"/><text class="lg" x="1399.8" y="359.0">Distorted sp<tspan font-size="23" dy="-12.5">3</tspan><tspan dy="12.5"> carbon</tspan></text>
<path d="M1318 388.9H1392" stroke="#ffff00" stroke-width="11.7" stroke-linecap="round" fill="none"/><text class="lg" x="1399.8" y="399.7">Graphite</text>
<path d="M1318 430.2H1392" stroke="#808000" stroke-width="11.7" stroke-linecap="round" fill="none"/><text class="lg" x="1399.8" y="440.2">Fitted curve</text>
</svg>
</body></html>
